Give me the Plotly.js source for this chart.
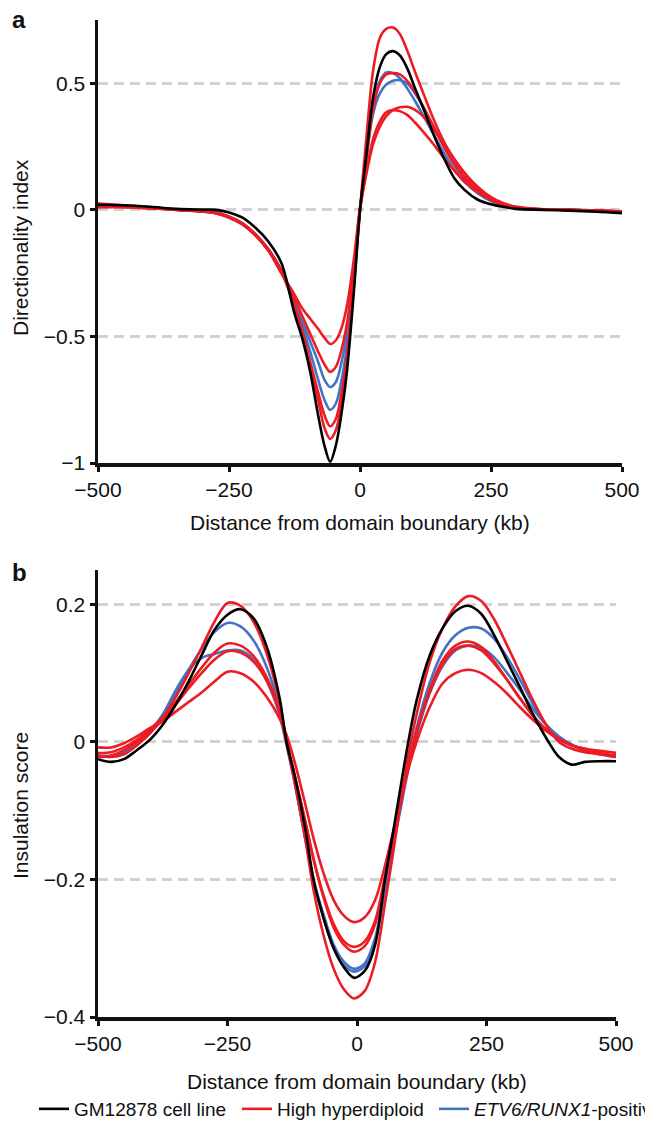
<!DOCTYPE html>
<html>
<head>
<meta charset="utf-8">
<script src="https://cdn.plot.ly/plotly-3.0.1.min.js"></script>
<style>html,body{margin:0;padding:0;background:#fff;}#chart{width:645px;height:1122px;}</style>
</head>
<body>
<div id="chart"></div>
<script>
// ---------- Panel a: directionality index ----------
const xA = [-500,-450,-400,-350,-300,-275,-250,-225,-200,-175,-150,-125,-110,-95,-80,-68,-57,-46,-35,-25,-12,0,12,25,38,50,63,76,90,105,120,140,160,180,200,225,250,275,300,350,400,450,500];
const aGM = [0.02,0.018,0.012,0.004,0.001,0,-0.01,-0.03,-0.07,-0.125,-0.21,-0.41,-0.51,-0.64,-0.81,-0.93,-0.995,-0.93,-0.8,-0.64,-0.33,0,0.215,0.445,0.565,0.615,0.627,0.61,0.56,0.48,0.405,0.3,0.205,0.125,0.078,0.04,0.022,0.011,0.004,0,-0.003,-0.007,-0.013];
const aHH1 = [0.01,0.01,0.006,0,-0.007,-0.014,-0.03,-0.057,-0.1,-0.16,-0.25,-0.335,-0.39,-0.43,-0.47,-0.505,-0.53,-0.515,-0.465,-0.38,-0.2,0.01,0.15,0.28,0.35,0.385,0.394,0.39,0.375,0.345,0.31,0.26,0.205,0.155,0.11,0.07,0.04,0.02,0.008,0.001,0,-0.003,-0.007];
const aHH2 = [0.02,0.015,0.008,0.001,-0.006,-0.013,-0.03,-0.057,-0.1,-0.16,-0.25,-0.35,-0.42,-0.49,-0.56,-0.61,-0.64,-0.62,-0.55,-0.45,-0.24,0,0.14,0.26,0.33,0.37,0.395,0.405,0.407,0.395,0.37,0.32,0.26,0.2,0.145,0.09,0.05,0.025,0.012,0.002,0,-0.003,-0.007];
const aHH3 = [0.015,0.012,0.007,0,-0.006,-0.012,-0.028,-0.055,-0.1,-0.16,-0.245,-0.38,-0.48,-0.6,-0.72,-0.81,-0.855,-0.825,-0.72,-0.58,-0.3,0,0.2,0.4,0.5,0.535,0.54,0.535,0.51,0.465,0.41,0.33,0.25,0.18,0.125,0.075,0.04,0.02,0.008,0.001,0,-0.003,-0.006];
const aHH4 = [0.025,0.018,0.01,0.002,-0.005,-0.012,-0.027,-0.052,-0.095,-0.155,-0.24,-0.385,-0.49,-0.62,-0.75,-0.86,-0.905,-0.87,-0.76,-0.6,-0.31,0,0.28,0.55,0.68,0.715,0.72,0.695,0.63,0.545,0.465,0.36,0.27,0.2,0.14,0.085,0.045,0.022,0.01,0.002,0,-0.003,-0.008];
const aER1 = [0.015,0.013,0.008,0.001,-0.005,-0.011,-0.026,-0.052,-0.095,-0.155,-0.24,-0.37,-0.46,-0.56,-0.67,-0.75,-0.79,-0.765,-0.67,-0.54,-0.28,0,0.22,0.42,0.51,0.543,0.54,0.52,0.48,0.43,0.375,0.3,0.225,0.16,0.11,0.065,0.035,0.017,0.007,0.001,0,-0.003,-0.007];
const aER2 = [0.015,0.013,0.008,0.001,-0.005,-0.011,-0.027,-0.053,-0.097,-0.157,-0.24,-0.36,-0.44,-0.52,-0.6,-0.67,-0.7,-0.68,-0.6,-0.49,-0.25,0,0.2,0.38,0.46,0.495,0.51,0.512,0.5,0.46,0.41,0.33,0.25,0.18,0.12,0.075,0.04,0.018,0.007,0.001,0,-0.003,-0.007];

// ---------- Panel b: insulation score ----------
const xB = [-500,-475,-450,-425,-400,-375,-350,-325,-300,-275,-250,-225,-200,-175,-150,-136,-120,-100,-84,-65,-45,-25,-6,15,35,54,70,86,99,115,140,165,190,215,240,265,290,315,340,365,390,415,440,470,500];
const bGM = [-0.025,-0.029,-0.025,-0.012,0.003,0.025,0.054,0.088,0.126,0.163,0.185,0.193,0.18,0.14,0.066,0,-0.05,-0.125,-0.2,-0.255,-0.3,-0.328,-0.343,-0.333,-0.295,-0.2,-0.13,-0.057,0,0.06,0.125,0.165,0.19,0.198,0.186,0.155,0.117,0.079,0.04,0.006,-0.022,-0.033,-0.029,-0.028,-0.028];
const bHH1 = [-0.008,-0.008,-0.002,0.008,0.02,0.03,0.044,0.058,0.072,0.088,0.102,0.1,0.088,0.066,0.035,0.01,-0.03,-0.09,-0.14,-0.19,-0.23,-0.253,-0.262,-0.255,-0.23,-0.18,-0.13,-0.08,-0.04,0,0.05,0.085,0.1,0.105,0.1,0.087,0.07,0.05,0.032,0.016,0.004,-0.005,-0.01,-0.016,-0.02];
const bHH2 = [-0.022,-0.02,-0.012,0,0.014,0.032,0.054,0.078,0.1,0.12,0.132,0.13,0.117,0.09,0.045,0,-0.05,-0.115,-0.17,-0.222,-0.265,-0.29,-0.298,-0.29,-0.26,-0.195,-0.135,-0.08,-0.035,0.015,0.072,0.113,0.135,0.14,0.133,0.114,0.09,0.063,0.038,0.018,0.004,-0.005,-0.012,-0.018,-0.022];
const bHH3 = [-0.016,-0.015,-0.008,0.003,0.018,0.036,0.058,0.083,0.108,0.13,0.143,0.14,0.125,0.095,0.048,0,-0.05,-0.115,-0.17,-0.225,-0.27,-0.295,-0.305,-0.297,-0.265,-0.2,-0.14,-0.08,-0.035,0.015,0.075,0.118,0.14,0.146,0.138,0.117,0.09,0.063,0.038,0.018,0.004,-0.005,-0.01,-0.013,-0.016];
const bHH4 = [-0.02,-0.022,-0.018,-0.005,0.012,0.035,0.065,0.1,0.137,0.175,0.202,0.198,0.175,0.13,0.06,0,-0.06,-0.14,-0.215,-0.28,-0.33,-0.36,-0.373,-0.362,-0.32,-0.235,-0.16,-0.08,-0.02,0.04,0.115,0.165,0.197,0.212,0.205,0.178,0.14,0.1,0.06,0.025,0,-0.01,-0.015,-0.018,-0.02];
const bER1 = [-0.02,-0.02,-0.015,-0.003,0.013,0.035,0.07,0.105,0.135,0.16,0.173,0.168,0.148,0.11,0.05,0,-0.06,-0.14,-0.2,-0.255,-0.3,-0.325,-0.334,-0.326,-0.29,-0.215,-0.15,-0.085,-0.035,0.02,0.085,0.13,0.155,0.166,0.165,0.15,0.123,0.09,0.055,0.025,0.005,-0.005,-0.012,-0.018,-0.02];
const bER2 = [-0.02,-0.02,-0.014,-0.002,0.015,0.04,0.075,0.105,0.122,0.128,0.133,0.133,0.12,0.09,0.04,-0.005,-0.06,-0.14,-0.2,-0.25,-0.295,-0.32,-0.33,-0.322,-0.285,-0.21,-0.15,-0.09,-0.04,0.01,0.07,0.11,0.133,0.14,0.137,0.123,0.1,0.075,0.048,0.025,0.008,-0.004,-0.012,-0.018,-0.022];

const seriesNames = ['GM12878 cell line', 'High hyperdiploid', '<i>ETV6/RUNX1</i>-positive'];
const xTicks = [-500, -250, 0, 250, 500];
const aTicks = [-1, -0.5, 0, 0.5];
const bTicks = [-0.4, -0.2, 0, 0.2];

const BLACK = '#000000', RED = '#ed1c24', BLUE = '#4472c4';
const FONT = 'Liberation Sans, Arial, Helvetica, sans-serif';
const W = 645, H = 1122;

function tr(x, y, color, name, xa, ya, legend, rank, lw) {
  return {
    type: 'scatter', mode: 'lines', x: x, y: y, name: name,
    xaxis: xa, yaxis: ya, showlegend: legend, legendrank: rank,
    legendwidth: lw,
    line: {color: color, width: 2.6, shape: 'spline', smoothing: 0.9},
    hoverinfo: 'skip'
  };
}

const traces = [
  // panel a (blue, red, black draw order)
  tr(xA, aER1, BLUE, seriesNames[2], 'x', 'y', true, 3, 185),
  tr(xA, aER2, BLUE, seriesNames[2], 'x', 'y', false, 3),
  tr(xA, aHH1, RED, seriesNames[1], 'x', 'y', true, 2, 152),
  tr(xA, aHH2, RED, seriesNames[1], 'x', 'y', false, 2),
  tr(xA, aHH3, RED, seriesNames[1], 'x', 'y', false, 2),
  tr(xA, aHH4, RED, seriesNames[1], 'x', 'y', false, 2),
  tr(xA, aGM, BLACK, seriesNames[0], 'x', 'y', true, 1, 158),
  // panel b
  tr(xB, bER1, BLUE, seriesNames[2], 'x2', 'y2', false, 3),
  tr(xB, bER2, BLUE, seriesNames[2], 'x2', 'y2', false, 3),
  tr(xB, bHH1, RED, seriesNames[1], 'x2', 'y2', false, 2),
  tr(xB, bHH2, RED, seriesNames[1], 'x2', 'y2', false, 2),
  tr(xB, bHH3, RED, seriesNames[1], 'x2', 'y2', false, 2),
  tr(xB, bHH4, RED, seriesNames[1], 'x2', 'y2', false, 2),
  tr(xB, bGM, BLACK, seriesNames[0], 'x2', 'y2', false, 1)
];

const tickFont = {family: FONT, size: 21, color: '#111'};
function xAxis(domain, anchor) {
  return {
    domain: domain, anchor: anchor, range: [-500, 500], fixedrange: true,
    tickmode: 'array', tickvals: xTicks, ticks: 'outside', ticklen: 5, tickwidth: 3, tickcolor: '#111',
    showline: true, linecolor: '#111', linewidth: 3.5, showgrid: false, zeroline: false,
    tickfont: tickFont, automargin: false
  };
}
function yAxis(domain, anchor, range, ticks) {
  return {
    domain: domain, anchor: anchor, range: range, fixedrange: true,
    tickmode: 'array', tickvals: ticks, ticks: 'outside', ticklen: 5, tickwidth: 3, tickcolor: '#111',
    showline: true, linecolor: '#111', linewidth: 3.5, zeroline: false,
    showgrid: true, gridcolor: '#d2d2d2', gridwidth: 3, griddash: '10px,6px',
    tickfont: tickFont, automargin: false
  };
}
function px(x) { return x / W; }
function py(y) { return 1 - y / H; }

function ann(text, x, y, size, angle, extra) {
  return Object.assign({
    text: text, xref: 'paper', yref: 'paper', x: px(x), y: py(y),
    xanchor: 'center', yanchor: 'middle', showarrow: false, textangle: angle || 0,
    font: {family: FONT, size: size, color: '#111'}
  }, extra || {});
}

const layout = {
  width: W, height: H,
  margin: {l: 0, r: 0, t: 0, b: 0, autoexpand: false},
  paper_bgcolor: '#ffffff', plot_bgcolor: '#ffffff',
  showlegend: true,
  legend: {
    orientation: 'h', x: px(34), xanchor: 'left', y: py(1090), yanchor: 'top',
    font: {family: FONT, size: 19, color: '#111'}, bgcolor: 'rgba(0,0,0,0)',
    traceorder: 'normal', itemwidth: 30
  },
  xaxis: xAxis([px(98), px(622)], 'y'),
  yaxis: yAxis([py(463), py(20)], 'x', [-1, 0.75], aTicks),
  xaxis2: xAxis([px(98), px(616)], 'y2'),
  yaxis2: yAxis([py(1017), py(570)], 'x2', [-0.4, 0.25], bTicks),
  annotations: [
    ann('<b>a</b>', 19, 20, 24),
    ann('<b>b</b>', 19, 572, 24),
    ann('Directionality index', 20, 248, 21, -90),
    ann('Insulation score', 20, 806, 21, -90),
    ann('Distance from domain boundary (kb)', 360, 523, 21),
    ann('Distance from domain boundary (kb)', 357, 1081, 21)
  ]
};

Plotly.newPlot('chart', traces, layout, {staticPlot: true, displayModeBar: false});
</script>
</body>
</html>
